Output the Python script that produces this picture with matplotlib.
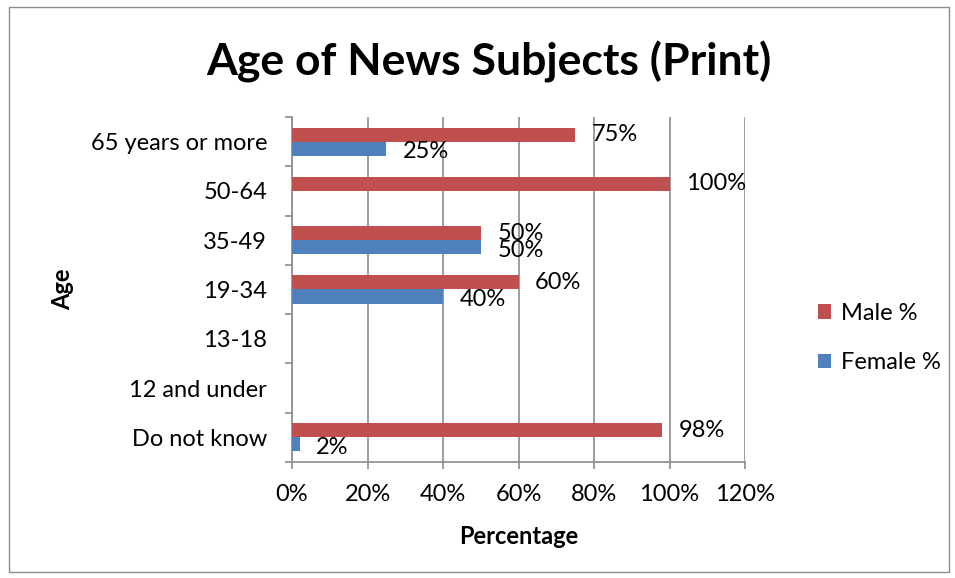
import numpy as np
import matplotlib
matplotlib.use("Agg")
import matplotlib.pyplot as plt
from matplotlib.patches import Rectangle
from matplotlib.ticker import FixedLocator, PercentFormatter

plt.rcParams['font.family'] = ['Lato', 'DejaVu Sans']

# Age groups, bottom to top as they appear on the axis
categories = ["Do not know", "12 and under", "13-18", "19-34", "35-49", "50-64", "65 years or more"]
male_pct = [98, 0, 0, 60, 50, 100, 75]
female_pct = [2, 0, 0, 40, 50, 0, 25]
x_ticks = [0, 20, 40, 60, 80, 100, 120]

colors = {'male': '#C0504D', 'female': '#4F81BD', 'grid': '#8C8C8C'}
fs = 17

fig = plt.figure(figsize=(9.55, 5.78), dpi=100)
ax = fig.add_axes([0.3058, 0.2007, 0.4743, 0.5969])

y = np.arange(len(categories))
h = 0.285
ax.barh(y + h / 2, male_pct, height=h, color=colors['male'], label="Male %", zorder=3)
ax.barh(y - h / 2, female_pct, height=h, color=colors['female'], label="Female %", zorder=3)

# value labels, skipped for empty bars
for yi, v in zip(y + h / 2, male_pct):
    if v:
        ax.annotate(f"{v}%", (v, yi), xytext=(12, 0), textcoords='offset points',
                    va='center', ha='left', fontsize=fs)
for yi, v in zip(y - h / 2, female_pct):
    if v:
        ax.annotate(f"{v}%", (v, yi), xytext=(12, -2), textcoords='offset points',
                    va='center', ha='left', fontsize=fs)

ax.set_xlim(0, 120)
ax.set_ylim(-0.5, len(categories) - 0.5)
ax.xaxis.set_major_locator(FixedLocator(x_ticks))
ax.xaxis.set_major_formatter(PercentFormatter(decimals=0))
ax.grid(axis='x', color=colors['grid'], linewidth=1.2, zorder=0)

ax.set_yticks(y)
ax.set_yticklabels(categories)
ax.yaxis.set_minor_locator(FixedLocator(np.arange(len(categories) + 1) - 0.5))
ax.tick_params(axis='y', which='major', length=0, pad=18, labelsize=fs)
ax.tick_params(axis='y', which='minor', length=5, color=colors['grid'], width=1.2)
ax.tick_params(axis='x', length=5, color=colors['grid'], width=1.2, pad=11, labelsize=fs)

for side in ('top', 'right'):
    ax.spines[side].set_visible(False)
for side in ('left', 'bottom'):
    ax.spines[side].set_color(colors['grid'])
    ax.spines[side].set_linewidth(1.2)

ax.set_xlabel("Percentage", fontsize=fs, fontweight='bold', labelpad=14)
ax.set_ylabel("Age", fontsize=fs, fontweight='bold', labelpad=12)

fig.text(0.512, 0.893, "Age of News Subjects (Print)", ha='center', va='center',
         fontsize=32, fontweight='bold')

handles, labels = ax.get_legend_handles_labels()
fig.legend(handles, labels, loc='center left', bbox_to_anchor=(0.834, 0.415),
           frameon=False, fontsize=fs, handlelength=0.55, handleheight=0.55,
           handletextpad=0.45, labelspacing=1.2)

# chart border
fig.patches.append(Rectangle((0.009, 0.01), 0.985, 0.978, transform=fig.transFigure,
                             fill=False, edgecolor='#8C8C8C', linewidth=1.0))

fig.savefig("out.png", dpi=100)
